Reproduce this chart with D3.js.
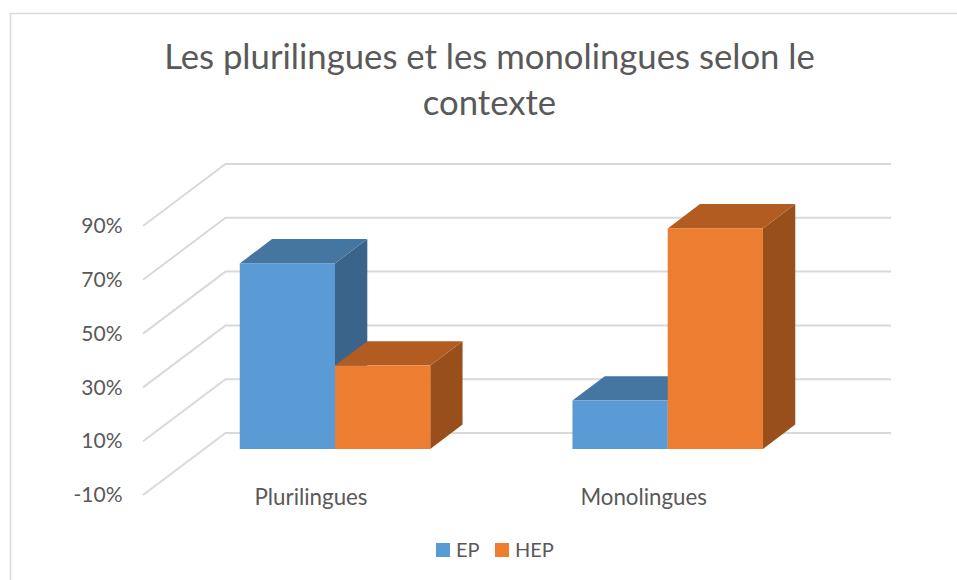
<!DOCTYPE html>
<html>
<head>
<meta charset="utf-8">
<script src="https://cdnjs.cloudflare.com/ajax/libs/d3/7.8.5/d3.min.js"></script>
<style>
body{margin:0;background:#fff;}
text{font-family:Lato,"Open Sans",sans-serif;fill:#595959;}
</style>
</head>
<body>
<svg id="chart" width="957" height="580"></svg>
<script>
// values
const titleLines = ['Les plurilingues et les monolingues selon le','contexte'];
const categories = ['Plurilingues','Monolingues'];
const seriesNames = ['EP','HEP'];
const epValues = [69,18];
const hepValues = [31,82];
const tickValues = [-10,10,30,50,70,90];
const seriesColors = ['#5b9bd5','#ed7d31'];
const topColors = ['#4575a1','#b35c22'];
const sideColors = ['#3a6489','#994f1c'];

const svg = d3.select('svg#chart');

// chart frame, only top and left show in the crop
svg.append('path')
.attr('d','M10.5,580V13.5H957')
.attr('fill','none')
.attr('stroke','#d9d9d9')
.attr('stroke-width',1.5);

// title
svg.append('g').selectAll('text')
.data(titleLines)
.enter().append('text')
.attr('x',489.5)
.attr('y',(d,i)=>69+i*46)
.attr('text-anchor','middle')
.style('font-size','34.7px')
.text(d=>d);

// depth of the walls and of the bars
const wallDx = 82.5, wallDy = -62;
const barDx = 32.3, barDy = -24.4;

// front axis scale, the walls are the same scale pushed back
const yAxisScale = d3.scaleLinear().domain([-10,90]).range([495,226]);
// bars stand further in so they have their own zero
const yBar = d3.scaleLinear().domain([0,100]).range([449,180]);

const xCat = d3.scaleBand().domain(categories).range([168.65,834.05]);
const xSeries = d3.scaleBand().domain(seriesNames).range([0,190.5]);

// gridlines
const grid = svg.append('g').attr('class','grid');
grid.selectAll('path')
.data(tickValues)
.enter().append('path')
.attr('fill','none')
.attr('stroke','#d9d9d9')
.attr('stroke-width',2)
.attr('d',d=>{
    let y = yAxisScale(d);
    return 'M143,'+y+'L'+(143+wallDx)+','+(y+wallDy)+'H891';
});

// value axis, labels only
const axis = d3.axisLeft(yAxisScale).tickValues(tickValues).tickSize(0).tickPadding(0).tickFormat(d=>d+'%');
svg.append('g')
.attr('transform','translate(122.5,0)')
.call(axis)
.call(g=>g.select('.domain').remove())
.selectAll('text')
.style('font-family','Lato,"Open Sans",sans-serif')
.style('font-size','21px')
.attr('dy','0.32em');

// bars, back ones first
function drawBar(g,x,w,v,s){
    let y0 = yBar(0), y1 = yBar(v);
    g.append('path')
    .attr('fill',sideColors[s])
    .attr('d','M'+(x+w)+','+y1+'l'+barDx+','+barDy+'V'+(y0+barDy)+'l'+(-barDx)+','+(-barDy)+'Z');
    g.append('path')
    .attr('fill',topColors[s])
    .attr('d','M'+x+','+y1+'l'+barDx+','+barDy+'h'+w+'l'+(-barDx)+','+(-barDy)+'Z');
    g.append('rect')
    .attr('x',x).attr('y',y1)
    .attr('width',w).attr('height',y0-y1)
    .attr('fill',seriesColors[s]);
}

const bars = svg.append('g').attr('class','bars');
categories.forEach((c,i)=>{
    let left = xCat(c)+(xCat.bandwidth()-190.5)/2;
    [epValues,hepValues].forEach((vals,s)=>{
        drawBar(bars,left+xSeries(seriesNames[s]),xSeries.bandwidth(),vals[i],s);
    });
});

// category labels
svg.append('g').selectAll('text')
.data(categories)
.enter().append('text')
.attr('x',d=>xCat(d)+xCat.bandwidth()/2-24)
.attr('y',505)
.attr('text-anchor','middle')
.style('font-size','22.3px')
.text(d=>d);

// legend
const legendX = [436,495];
const legend = svg.append('g').selectAll('g')
.data(seriesNames)
.enter().append('g')
.attr('transform',(d,i)=>'translate('+legendX[i]+',543)');
legend.append('rect')
.attr('width',14).attr('height',14)
.attr('fill',(d,i)=>seriesColors[i]);
legend.append('text')
.attr('x',20).attr('y',14)
.style('font-size','20px')
.text(d=>d);
</script>
</body>
</html>
